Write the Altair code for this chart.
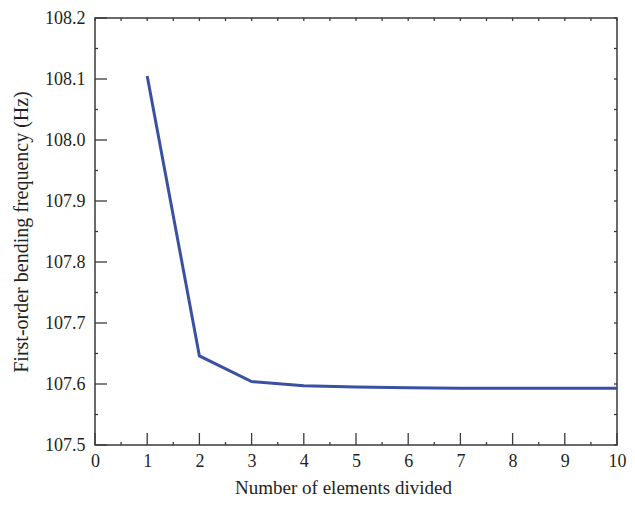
import altair as alt
import pandas as pd

# Data
elements = [1, 2, 3, 4, 5, 6, 7, 8, 9, 10]
frequency = [108.105, 107.646, 107.604, 107.597, 107.595, 107.594, 107.593, 107.593, 107.593, 107.593]

x_major = [0, 1, 2, 3, 4, 5, 6, 7, 8, 9, 10]
x_minor = [0.5, 1.5, 2.5, 3.5, 4.5, 5.5, 6.5, 7.5, 8.5, 9.5]
y_major = [107.5, 107.6, 107.7, 107.8, 107.9, 108.0, 108.1, 108.2]
y_minor = [107.55, 107.65, 107.75, 107.85, 107.95, 108.05, 108.15]

W, H = 522, 427
FONT = "Liberation Serif"
TXT = "#231f20"
FRAME = "#3a3a3a"

xscale = alt.Scale(domain=[0, 10], nice=False, zero=False)
yscale = alt.Scale(domain=[107.5, 108.2], nice=False, zero=False)

df = pd.DataFrame({"n": elements, "f": frequency})

line = alt.Chart(df).mark_line(color="#3A50A3", strokeWidth=3).encode(
    x=alt.X("n:Q", scale=xscale,
            axis=alt.Axis(values=x_major, format="d", ticks=False, domain=False, grid=False,
                          labelFlush=False,
                          labelFont=FONT, labelFontSize=18, labelColor=TXT, labelPadding=7,
                          title="Number of elements divided", titleFont=FONT, titleFontSize=19,
                          titleFontWeight="normal", titleColor=TXT, titlePadding=8,
                          titleX=248, titleAlign="center")),
    y=alt.Y("f:Q", scale=yscale,
            axis=alt.Axis(values=y_major, format=".1f", ticks=False, domain=False, grid=False,
                          labelFlush=False,
                          labelFont=FONT, labelFontSize=18, labelColor=TXT, labelPadding=10,
                          title="First-order bending frequency (Hz)", titleFont=FONT,
                          titleFontSize=20, titleFontWeight="normal", titleColor=TXT,
                          titlePadding=13)),
)

def xticks(vals, y1, y2):
    return alt.Chart(pd.DataFrame({"v": vals})).mark_rule(color=FRAME, strokeWidth=1.3).encode(
        x=alt.X("v:Q", scale=xscale), y=alt.value(y1), y2=alt.value(y2))

def yticks(vals, x1, x2):
    return alt.Chart(pd.DataFrame({"v": vals})).mark_rule(color=FRAME, strokeWidth=1.3).encode(
        y=alt.Y("v:Q", scale=yscale), x=alt.value(x1), x2=alt.value(x2))

top_vals = x_minor + x_major
right_vals = y_minor + y_major

chart = alt.layer(
    xticks(x_major, H - 12, H),
    xticks(x_minor, H - 3, H),
    xticks(top_vals, 0, 3),
    yticks(y_major, 0, 12),
    yticks(y_minor, 0, 3),
    yticks(right_vals, W - 3, W),
    line,
).properties(
    width=W, height=H,
    autosize=alt.AutoSizeParams(type="none"),
    padding={"left": 87, "top": 10, "right": 10, "bottom": 56},
    background="white",
).configure_view(
    stroke=FRAME, strokeWidth=1.5
)

chart.save("out.html", embed_options={"renderer": "svg", "actions": False})
